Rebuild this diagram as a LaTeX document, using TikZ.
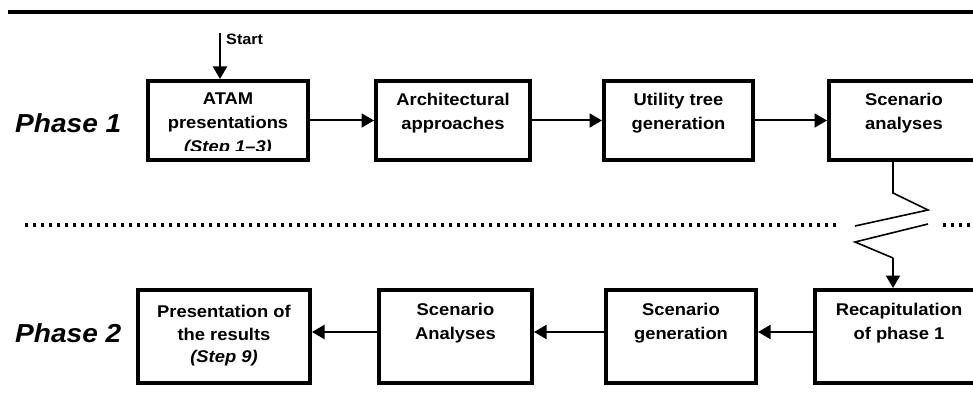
\documentclass[tikz,border=0pt]{standalone}
\usepackage{fontspec}
\setmainfont{Liberation Sans}[FakeStretch=1.08]
\usetikzlibrary{arrows.meta}
\begin{document}
\begin{tikzpicture}[x=1pt,y=-1pt,
  stepbox/.style={draw, line width=4pt, inner sep=0pt, fill=none},
  steptext/.style={anchor=north, inner sep=0pt, align=center,
    font=\bfseries\fontsize{17}{24}\selectfont},
  phaselabel/.style={anchor=base west, inner sep=0pt,
    font=\bfseries\itshape\fontsize{26}{30}\selectfont},
  flow/.style={line width=2pt, -{Triangle[length=12.5pt,width=14pt]}},
  breakline/.style={line width=1.6pt, line join=miter},
  dotline/.style={line width=3.6pt, dash pattern=on 3.2pt off 4.8pt},
  rule/.style={line width=4pt}]
\useasboundingbox (0,0) rectangle (973,414);
\clip (0,0) rectangle (973,414);

% heading rule
\coordinate (rt0) at (8,12.5);
\coordinate (rt1) at (980,12.5);
\draw[rule] (rt0) -- (rt1);

% phase labels
\node[phaselabel] (ph1) at (15,133) {Phase 1};
\node[phaselabel] (ph2) at (15,342) {Phase 2};

% phase 1 steps
\node[stepbox, minimum width=160pt, minimum height=79pt] (p1a) at (228,120.5) {};
\node[stepbox, minimum width=154pt, minimum height=79pt] (p1b) at (453,120.5) {};
\node[stepbox, minimum width=149pt, minimum height=79pt] (p1c) at (678.5,120.5) {};
\node[stepbox, minimum width=150pt, minimum height=79pt] (p1d) at (904,120.5) {};

\begin{scope}
  \clip (150,83) rectangle (306,150.5);
  \node[steptext] (t1a) at (228,93) {ATAM\\presentations\\\textit{(Step 1--3)}};
\end{scope}
\node[steptext] (t1b) at (453,93) {Architectural\\approaches};
\node[steptext] (t1c) at (678.5,93) {Utility tree\\generation};
\node[steptext] (t1d) at (904,93) {Scenario\\analyses};

% phase 2 steps
\node[stepbox, minimum width=172pt, minimum height=93pt] (p2a) at (224,336.5) {};
\node[stepbox, minimum width=153pt, minimum height=93pt] (p2b) at (455.5,336.5) {};
\node[stepbox, minimum width=150pt, minimum height=93pt] (p2c) at (681,336.5) {};
\node[stepbox, minimum width=168pt, minimum height=93pt] (p2d) at (899,336.5) {};

\node[steptext, font=\bfseries\fontsize{17}{22.5}\selectfont] (t2a) at (224,305)
  {Presentation of\\the results\\\textit{(Step 9)}};
\node[steptext] (t2b) at (455.5,303) {Scenario\\Analyses};
\node[steptext] (t2c) at (681,303) {Scenario\\generation};
\node[steptext] (t2d) at (899,303) {Recapitulation\\of phase 1};

% start marker
\coordinate (s0) at (220,33);
\draw[flow] (s0) -- (s0 |- p1a.north);
\node[anchor=base west, inner sep=0pt, font=\bfseries\fontsize{15}{18}\selectfont]
  (start) at (226,45) {Start};

% phase 1 flow
\draw[flow] (p1a.east) -- (p1b.west);
\draw[flow] (p1b.east) -- (p1c.west);
\draw[flow] (p1c.east) -- (p1d.west);

% phase 2 flow (right to left)
\coordinate (r2) at (0,332);
\draw[flow] (p2d.west |- r2) -- (p2c.east |- r2);
\draw[flow] (p2c.west |- r2) -- (p2b.east |- r2);
\draw[flow] (p2b.west |- r2) -- (p2a.east |- r2);

% phase separator
\coordinate (d0) at (25,225);
\coordinate (d1) at (838,225);
\coordinate (d2) at (943,225);
\coordinate (d3) at (980,225);
\draw[dotline] (d0) -- (d1);
\draw[dotline] (d2) -- (d3);

% break between phases
\coordinate (z1) at (893,193);
\coordinate (z2) at (928,210);
\coordinate (z3) at (855,226);
\coordinate (z4) at (928,224);
\coordinate (z5) at (855,242);
\coordinate (z6) at (893,258);
\draw[breakline] (p1d.south -| z1) -- (z1) -- (z2) -- (z3);
\draw[breakline] (z4) -- (z5) -- (z6);
\draw[flow] (z6) -- (z6 |- p2d.north);
\end{tikzpicture}
\end{document}
